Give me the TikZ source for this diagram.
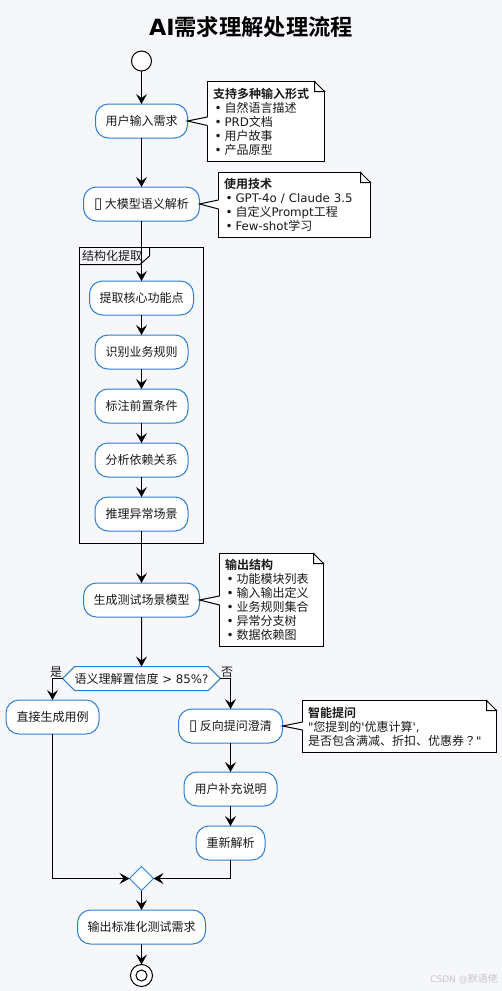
\documentclass[tikz,border=0pt]{standalone}
\usepackage{fontspec}
\setmainfont[BoldFont={Noto Sans CJK SC Bold}]{Noto Sans CJK SC}
\newfontfamily\lat{DejaVu Sans}
\newfontfamily\cjktc{Noto Sans CJK TC}
\usepackage{tikz}
\usetikzlibrary{shapes.geometric, shapes.symbols, arrows.meta, positioning, calc}
\definecolor{bgcol}{HTML}{F5F7FB}
\definecolor{bluecol}{HTML}{2E7FD3}
\newcommand{\nbul}{\hspace*{1.5pt}\makebox[10pt][l]{\lat •}}
\newcommand{\latt}[1]{{\lat\fontsize{11.8}{14}\selectfont #1}}
\newcommand{\tofu}{{\lat\fontsize{15}{14}\selectfont ▯}}
\tikzset{
    step_box/.style={rectangle, draw=bluecol, fill=white, rounded corners=13pt, line width=1pt, inner sep=0pt, outer sep=0pt, minimum height=34pt, font=\fontsize{12}{14}\selectfont, text=black!90},
    note_box/.style={rectangle, draw, fill=white, line width=1pt, anchor=north west, inner xsep=5.5pt, inner ysep=0pt, outer sep=0pt, align=left, font=\fontsize{12}{14}\selectfont, text=black!90},
    arrow/.style={-{Stealth[length=10pt, width=11pt, inset=4pt]}, line width=1pt},
    plain_line/.style={line width=1pt},
    small_label/.style={font=\fontsize{12}{14}\selectfont, text=black!90}
}
% folded corner and pointer of a note
\newcommand{\notefold}[1]{
    \fill[bgcol] ($(#1.north east)+(-10,-1)$) -- ++(11,0) -- ++(0,11) -- cycle;
    \draw[line width=1pt, fill=white] ($(#1.north east)+(-10,0)$) -- ++(10,10) -- ++(-10,0) -- cycle;
    \draw[line width=1pt] (#1.north west) -- ($(#1.north east)+(-10,0)$);
}
\newcommand{\notetail}[4]{
    \fill[white] (#1.east) -- (#2.west |- 0,#3) -- (#2.west |- 0,#4) -- cycle;
    \draw[line width=1.2pt, white] (#2.west |- 0,#3) -- (#2.west |- 0,#4);
    \draw[line width=1pt] (#2.west |- 0,#3) -- (#1.east) -- (#2.west |- 0,#4);
}
\begin{document}
\begin{tikzpicture}[x=1pt, y=-1pt]
    \fill[bgcol] (0,0) rectangle (502,991);
    \useasboundingbox (0,0) rectangle (502,991);

    % Title
    \node (title) at (251,27) [font=\fontsize{22.3}{24}\selectfont\bfseries] {{\lat\bfseries AI}需求理解处理流程};

    % Partition behind the steps
    \node (extract) [rectangle, draw, line width=1pt, anchor=north west, minimum width=124pt, minimum height=296pt, inner sep=0pt, outer sep=0pt] at (79.5,247.5) {};
    \node (extract_label) [small_label, anchor=west, inner sep=0pt] at (82,255.5) {结构化提取};
    \draw[plain_line] (extract.north west |- 0,264.5) -- (140,264.5) -- (149.5,256) -- (149.5,247.5);

    % Main steps
    \node (start) [circle, draw, fill=white, line width=1pt, minimum size=20pt, inner sep=0pt, outer sep=0pt] at (141.5,61) {};
    \node (input) [step_box, minimum width=92pt] at (141.5,121) {用户输入需求};
    \node (parse) [step_box, minimum width=116pt] at (141.5,204) {\tofu\ 大模型语义解析};
    \node (points) [step_box, minimum width=104pt] at (141.5,298) {提取核心功能点};
    \node (rules) [step_box, minimum width=93pt] at (141.5,352) {识别业务规则};
    \node (precond) [step_box, minimum width=93pt] at (141.5,406) {标注前置条件};
    \node (depend) [step_box, minimum width=93pt] at (141.5,460) {分析依赖关系};
    \node (except) [step_box, minimum width=93pt] at (141.5,514) {推理异常场景};
    \node (model) [step_box, minimum width=116pt] at (141.5,600) {生成测试场景模型};

    % Decision and its branches
    \node (check) [signal, signal to=west and east, signal pointer angle=90, draw=bluecol, fill=white, line width=1pt, minimum width=157pt, minimum height=24pt, inner sep=0pt, outer sep=0pt, font=\fontsize{12}{14}\selectfont, text=black!90] at (141.5,678.5) {语义理解置信度\latt{ > 85\%?}};
    \node (direct) [step_box, minimum width=93pt] at (52.5,717) {直接生成用例};
    \node (ask) [step_box, minimum width=104pt] at (230.5,726) {\tofu\ 反向提问澄清};
    \node (more) [step_box, minimum width=93pt] at (230.5,789) {用户补充说明};
    \node (again) [step_box, minimum width=69pt] at (230.5,843) {重新解析};
    \node (merge) [diamond, draw=bluecol, fill=white, line width=1pt, minimum width=24pt, minimum height=24pt, inner sep=0pt, outer sep=0pt] at (141.5,878.5) {};
    \node (result) [step_box, minimum width=128pt] at (141.5,927) {输出标准化测试需求};
    \node (stop) [circle, draw, fill=white, line width=1pt, minimum size=22pt, inner sep=0pt, outer sep=0pt] at (141.5,975.5) {};
    \node (stop_in) [circle, draw, fill=white, line width=1pt, minimum size=11pt, inner sep=0pt] at (141.5,975.5) {};

    \node (yes) [small_label] at (56,672) {是};
    \node (no) [small_label] at (227,672) {否};

    % Notes
    \node (note_input) [note_box, minimum width=117pt, minimum height=80pt, text width=106pt] at (207.5,81.5) {{\bfseries 支持多种输入形式}\\\nbul 自然语言描述\\\nbul \latt{PRD}文档\\\nbul 用户故事\\\nbul 产品原型};
    \node (note_tech) [note_box, minimum width=152pt, minimum height=65pt, text width=141pt] at (218.5,172.5) {{\bfseries 使用技术}\\\nbul \latt{GPT-4o / Claude 3.5}\\\nbul 自定义\latt{Prompt}工程\\\nbul \latt{Few-shot}学习};
    \node (note_output) [note_box, minimum width=104pt, minimum height=93pt, text width=93pt] at (219.5,553.5) {{\bfseries 输出结构}\\\nbul 功能模块列表\\\nbul 输入输出定义\\\nbul 业务规则集合\\\nbul 异常分支树\\\nbul 数据依赖图};
    \node (note_ask) [note_box, minimum width=194pt, minimum height=52pt, text width=183pt] at (302.5,700.5) {{\bfseries 智能提问}\\\latt{"}您提到的\latt{'}优惠计算\latt{',}\\是否包含满减、折扣、优惠券{\cjktc ？}\latt{"}};
    \notefold{note_input}
    \notefold{note_tech}
    \notefold{note_output}
    \notefold{note_ask}
    \notetail{input}{note_input}{117}{125.5}
    \notetail{parse}{note_tech}{200}{209}
    \notetail{model}{note_output}{596}{605}
    \notetail{ask}{note_ask}{722}{730}

    % Connections
    \draw [arrow] (start) -- (input);
    \draw [arrow] (input) -- (parse);
    \draw [arrow] (parse) -- (points);
    \draw [arrow] (points) -- (rules);
    \draw [arrow] (rules) -- (precond);
    \draw [arrow] (precond) -- (depend);
    \draw [arrow] (depend) -- (except);
    \draw [arrow] (except) -- (model);
    \draw [arrow] (model) -- (check);
    \draw [arrow] (check.west) -| (direct.north);
    \draw [arrow] (check.east) -| (ask.north);
    \draw [arrow] (ask) -- (more);
    \draw [arrow] (more) -- (again);
    \draw [arrow] (direct.south) |- (merge.west);
    \draw [arrow] (again.south) |- (merge.east);
    \draw [arrow] (merge) -- (result);
    \draw [arrow] (result) -- (stop);

    % Watermark
    \node (mark) [anchor=east, inner sep=0pt, text=black!22, font=\fontsize{10}{11}\selectfont] at (498,979) {{\lat\fontsize{9}{11}\selectfont CSDN @}默语佬};
\end{tikzpicture}
\end{document}
